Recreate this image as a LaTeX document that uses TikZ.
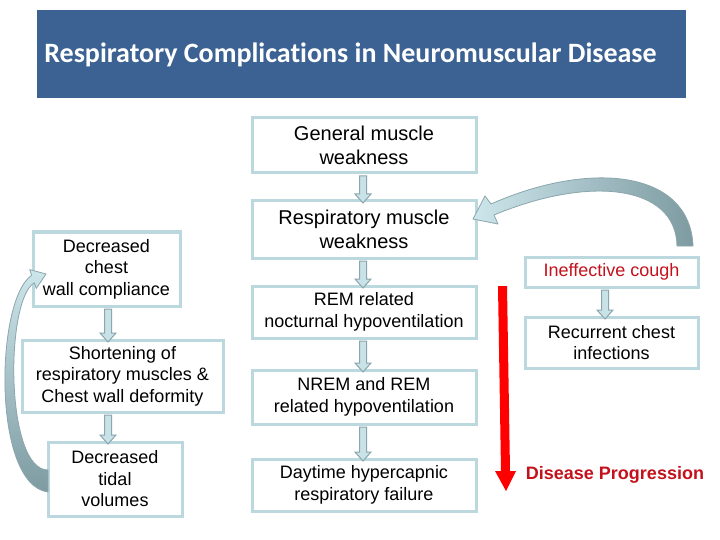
\documentclass[tikz,border=0pt]{standalone}
\usepackage{fontspec}
\setmainfont{Liberation Sans}
\newfontfamily\titlefont[Ligatures=NoCommon]{Carlito}
\usetikzlibrary{calc}
\definecolor{titlebg}{RGB}{59,98,146}
\definecolor{boxline}{RGB}{186,216,221}
\definecolor{arrfill}{RGB}{200,226,232}
\definecolor{arrline}{RGB}{139,166,172}
\definecolor{textred}{RGB}{196,18,28}
\definecolor{curvedark}{RGB}{125,155,161}
\definecolor{curvelight}{RGB}{205,230,236}
\newcommand{\blkdown}[3]{%
  \draw[smallarr] let \p1=($(#2.south)+(#1,0)$), \p2=(#3.north) in
  (\x1-3.5pt,\y1-3pt) -- (\x1+3.5pt,\y1-3pt) -- (\x1+3.5pt,\y2+7pt) -- (\x1+8pt,\y2+7pt)
  -- (\x1,\y2-2pt) -- (\x1-8pt,\y2+7pt) -- (\x1-3.5pt,\y2+7pt) -- cycle;}
\begin{document}
\begin{tikzpicture}[x=1pt,y=-1pt,
  box/.style={draw=boxline, line width=3pt, fill=white, align=center, inner sep=0pt, outer sep=0pt,
    font=\fontsize{18}{21.5}\selectfont},
  bigbox/.style={box, font=\fontsize{20}{24}\selectfont},
  smallarr/.style={fill=arrfill, draw=arrline, line width=1pt, line join=miter},
  curvearr/.style={draw=arrline, line width=0.8pt, line join=round}]
\fill[white] (0,0) rectangle (720,540);
\useasboundingbox (0,0) rectangle (720,540);

% title
\node[fill=titlebg, minimum width=649pt, minimum height=88pt, inner sep=0pt] (titlebar) at (361.5,54) {};
\node[text=white, font=\titlefont\bfseries\fontsize{28}{32}\selectfont, inner sep=0pt] (title) at (350.5,55)
  {Respiratory Complications in Neuromuscular Disease};

% middle column
\node[bigbox, minimum width=224pt, minimum height=55pt] (gen) at (364,145.5) {General muscle\\weakness};
\node[bigbox, minimum width=224pt, minimum height=57pt] (resp) at (364,229.5) {Respiratory muscle\\weakness};
\node[box, minimum width=224pt, minimum height=52pt] (rem) at (364,312) {REM related\\nocturnal hypoventilation};
\node[box, minimum width=224pt, minimum height=54pt] (nrem) at (364,397) {NREM and REM\\related hypoventilation};
\node[box, minimum width=224pt, minimum height=52pt] (day) at (364,485) {Daytime hypercapnic\\respiratory failure};

% left column
\node[box, minimum width=147pt, minimum height=74pt] (dcw) at (106.5,269) {Decreased\\chest\\wall compliance};
\node[box, minimum width=201pt, minimum height=72pt] (short) at (122.5,376) {Shortening of\\respiratory muscles \&\\Chest wall deformity};
\node[box, minimum width=134pt, minimum height=74pt] (tidal) at (115,479) {Decreased\\tidal\\volumes};

% right column
\node[box, minimum width=173pt, minimum height=30pt, text=textred] (cough) at (611.5,272) {Ineffective cough};
\node[box, minimum width=173pt, minimum height=51pt] (recur) at (611.5,342.5) {Recurrent chest\\infections};

% small block arrows
\blkdown{-1}{gen}{resp}
\blkdown{-1}{resp}{rem}
\blkdown{-1}{rem}{nrem}
\blkdown{-1}{nrem}{day}
\blkdown{1.5}{dcw}{short}
\blkdown{-14.5}{short}{tidal}
\blkdown{-6.5}{cough}{recur}

% curved arrow: ineffective cough -> respiratory muscle weakness
\shadedraw[curvearr, left color=curvelight, right color=curvedark]
  ($(cough.north)+(81.5,-11)$) .. controls ($(cough.north)+(78.5,-87)$) and ($(resp.east)+(114,-69.5)$) ..
  ($(resp.east)+(15,-25.5)$) -- ($(resp.east)+(9,-33.5)$) -- ($(resp.east)+(-3,-10.5)$) --
  ($(resp.east)+(22,-5.5)$) -- ($(resp.east)+(18,-14.5)$) .. controls ($(resp.east)+(114,-54.5)$) and
  ($(cough.north)+(64.5,-72)$) .. ($(cough.north)+(65.5,-11)$) -- cycle;

% curved arrow: decreased tidal volumes -> decreased chest wall compliance
\shadedraw[curvearr, top color=curvelight, bottom color=curvedark]
  ($(tidal.west)+(0,13)$) .. controls ($(tidal.west)+(-56,6)$) and ($(dcw.west)+(-38,31)$) ..
  ($(dcw.west)+(-1.3,6.2)$) -- ($(dcw.west)+(-3.3,0.6)$) -- ($(dcw.west)+(13,5)$) --
  ($(dcw.west)+(3.3,19.4)$) -- ($(dcw.west)+(1.3,13.8)$) .. controls ($(dcw.west)+(-28,31)$) and
  ($(tidal.west)+(-43,-9)$) .. ($(tidal.west)+(0,-9)$) -- cycle;

% disease progression arrow
\fill[red] (498,286) -- (507,286) -- (510,471) -- (516,471) -- (506,491) -- (495,471) -- (501,471) -- cycle;
\node[text=textred, font=\bfseries\fontsize{18}{21.5}\selectfont, inner sep=0pt] (prog) at (615,475) {Disease Progression};
\end{tikzpicture}
\end{document}
